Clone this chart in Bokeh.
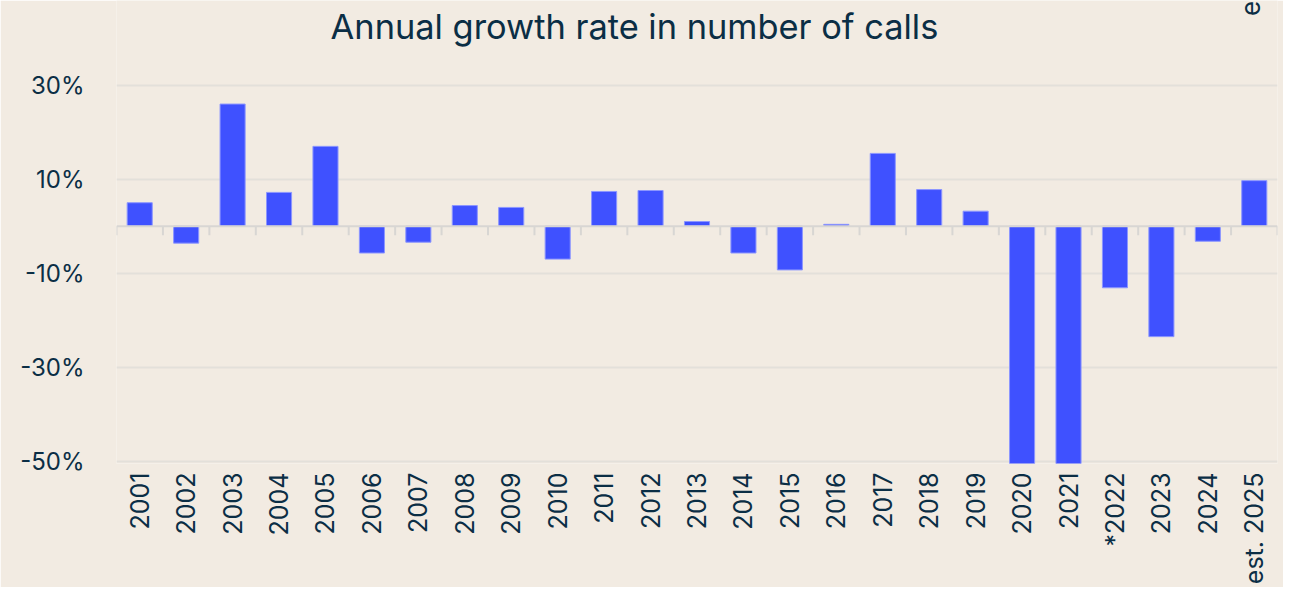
from bokeh.plotting import figure
from bokeh.models import FixedTicker, PrintfTickFormatter, Span, ColumnDataSource, Label
from bokeh.transform import dodge
from bokeh.embed import file_html
from bokeh.resources import INLINE
import math

title_text = "Annual growth rate in number of calls"
years = ["2001", "2002", "2003", "2004", "2005", "2006", "2007", "2008", "2009", "2010",
         "2011", "2012", "2013", "2014", "2015", "2016", "2017", "2018", "2019", "2020",
         "2021", "*2022", "2023", "2024", "est. 2025"]
growth = [5.0, -3.6, 26.0, 7.2, 17.0, -5.7, -3.4, 4.4, 4.0, -7.0,
          7.4, 7.6, 1.0, -5.7, -9.3, 0.4, 15.5, 7.8, 3.2, -70.0,
          -60.0, -13.1, -23.5, -3.2, 9.7]
y_ticks = [30, 10, -10, -30, -50]

TEXT = "#0B2E45"
BG = "#F2EBE2"
FONT = "Inter"

p = figure(x_range=years, y_range=(-50.5, 48.04), width=1283, height=587,
           output_backend="svg", toolbar_location=None)
p.background_fill_color = BG
p.border_fill_color = BG
p.outline_line_color = None
p.min_border_left = 116
p.min_border_right = 6
p.min_border_top = 0

src = ColumnDataSource(dict(x=years, top=growth))
p.vbar(x="x", top="top", bottom=0, width=0.54, source=src,
       fill_color="#3F51FF", line_color="#8C96FF", line_width=1)

# zero line with boundary ticks
p.add_layout(Span(location=0, dimension="width", line_color="#D8D6D3", line_width=2))
tick_src = ColumnDataSource(dict(x=years))
p.segment(x0=dodge("x", -0.5, range=p.x_range), x1=dodge("x", -0.5, range=p.x_range),
          y0=0, y1=-1.9, source=tick_src, line_color="#D8D6D3", line_width=2)
p.segment(x0=dodge("x", 0.5, range=p.x_range), x1=dodge("x", 0.5, range=p.x_range),
          y0=0, y1=-1.9, source=ColumnDataSource(dict(x=years[-1:])),
          line_color="#D8D6D3", line_width=2)

# y axis
p.yaxis.ticker = FixedTicker(ticks=y_ticks)
p.yaxis.formatter = PrintfTickFormatter(format="%d%%")
p.yaxis.axis_line_color = None
p.yaxis.major_tick_line_color = None
p.yaxis.minor_tick_line_color = None
p.yaxis.major_label_text_font = FONT
p.yaxis.major_label_text_font_size = "24px"
p.yaxis.major_label_text_color = TEXT
p.yaxis.major_label_standoff = 26

p.ygrid.grid_line_color = "#E3E0DA"
p.ygrid.grid_line_width = 2
p.xgrid.grid_line_color = None

# x axis
p.xaxis.axis_line_color = None
p.xaxis.major_tick_line_color = None
p.xaxis.minor_tick_line_color = None
p.xaxis.major_label_orientation = math.pi / 2
p.xaxis.major_label_text_font = FONT
p.xaxis.major_label_text_font_size = "25px"
p.xaxis.major_label_text_color = TEXT
p.xaxis.major_label_standoff = 3

# title (drawn inside the frame's empty top band)
p.add_layout(Label(x=4.61, y=42.5, text=title_text, text_font=FONT,
                   text_font_size="34.4px", text_color=TEXT,
                   text_align="left", text_baseline="alphabetic"))

# clipped rotated note at top right
p.add_layout(Label(x=24.42, y=44.75, text="est.",
                   angle=math.pi / 2, angle_units="rad", text_font=FONT,
                   text_font_size="26px", text_color=TEXT,
                   text_align="left", text_baseline="alphabetic"))

open("out.html", "w").write(file_html(p, INLINE))
